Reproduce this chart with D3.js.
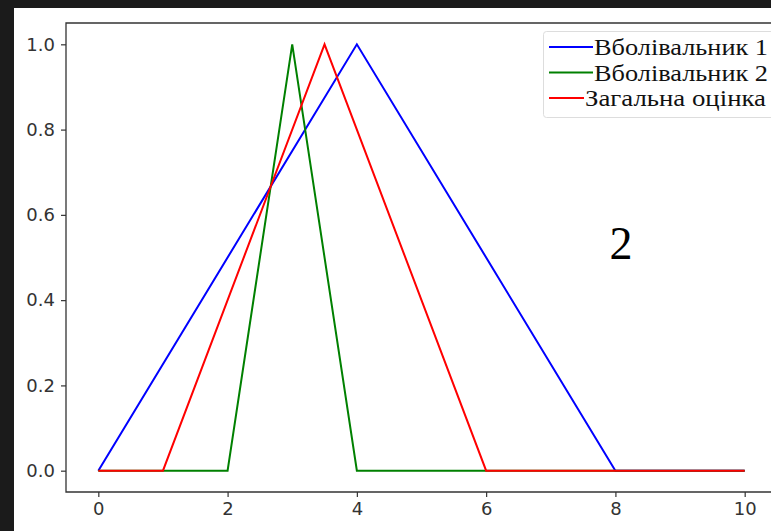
<!DOCTYPE html>
<html>
<head>
<meta charset="utf-8">
<script src="https://cdn.jsdelivr.net/npm/d3@7"></script>
<style>
  html, body { margin: 0; padding: 0; background: #1b1b1b; overflow: hidden; }
  svg { display: block; }
</style>
</head>
<body>
<svg id="chart" width="771" height="531"></svg>
<script>
// データ
var seriesNames = ["Вболівальник 1", "Вболівальник 2", "Загальна оцінка"];
var seriesColors = ["#0000ff", "#008000", "#ff0000"];
var fan1X = [0, 4, 8, 10];
var fan1Y = [0, 1, 0, 0];
var fan2X = [0, 2, 3, 4, 10];
var fan2Y = [0, 0, 1, 0, 0];
var totalX = [0, 1, 3.5, 6, 10];
var totalY = [0, 0, 1, 0, 0];
var xTicks = [0, 2, 4, 6, 8, 10];
var yTicks = [0, 0.2, 0.4, 0.6, 0.8, 1.0];
var noteText = "2";

var svg = d3.select("#chart");

// 白い背景
svg.append("rect")
  .attr("x", 14).attr("y", 8)
  .attr("width", 771 - 14).attr("height", 531 - 8)
  .attr("fill", "#fff");

var plotLeft = 66, plotTop = 23, plotRight = 777, plotBottom = 492;

var x = d3.scaleLinear().domain([-0.5, 10.5]).range([plotLeft, plotRight]);
var y = d3.scaleLinear().domain([-0.05, 1.05]).range([plotBottom, plotTop]);

function styleAxis(g){
  g.select(".domain").remove();
  g.selectAll("line").attr("stroke", "#333").attr("stroke-width", 1.2);
  g.selectAll("text")
    .attr("font-family", "DejaVu Sans, sans-serif")
    .attr("font-size", 18)
    .attr("fill", "#333");
}

// 軸
svg.append("g")
  .attr("transform", "translate(0," + plotBottom + ")")
  .call(d3.axisBottom(x).tickValues(xTicks).tickSize(5).tickPadding(5).tickFormat(d3.format("d")))
  .call(styleAxis);

svg.append("g")
  .attr("transform", "translate(" + plotLeft + ",0)")
  .call(d3.axisLeft(y).tickValues(yTicks).tickSize(5).tickPadding(6).tickFormat(d3.format(".1f")))
  .call(styleAxis);

// 線
var line = d3.line()
  .x(function(d){ return x(d[0]); })
  .y(function(d){ return y(d[1]); });

var allSeries = [
  d3.zip(fan1X, fan1Y),
  d3.zip(fan2X, fan2Y),
  d3.zip(totalX, totalY)
];

allSeries.forEach(function(s, i){
  svg.append("path")
    .attr("d", line(s))
    .attr("fill", "none")
    .attr("stroke", seriesColors[i])
    .attr("stroke-width", 2);
});

// 枠
svg.append("path")
  .attr("d", "M" + plotRight + "," + plotTop + "H" + plotLeft + "V" + plotBottom + "H" + plotRight)
  .attr("fill", "none")
  .attr("stroke", "#333")
  .attr("stroke-width", 1.3);

// 凡例
var legend = svg.append("g");
legend.append("rect")
  .attr("x", 543.5).attr("y", 31.5)
  .attr("width", 240).attr("height", 86)
  .attr("rx", 3)
  .attr("fill", "#fff")
  .attr("stroke", "#ddd");

var textEnds = [768, 768, 766];
seriesNames.forEach(function(name, i){
  var ly = 47 + i * 25.5;
  var x2 = i < 2 ? 593 : 584;
  legend.append("line")
    .attr("x1", 549).attr("x2", x2)
    .attr("y1", ly).attr("y2", ly)
    .attr("stroke", seriesColors[i])
    .attr("stroke-width", 2);
  legend.append("text")
    .attr("x", x2 + 1).attr("y", ly + 8)
    .attr("font-family", "Liberation Serif, serif")
    .attr("font-size", 23)
    .attr("fill", "#111")
    .attr("textLength", textEnds[i] - x2 - 1)
    .attr("lengthAdjust", "spacingAndGlyphs")
    .text(name);
});

// 注記
svg.append("text")
  .attr("x", 621).attr("y", 259)
  .attr("text-anchor", "middle")
  .attr("font-family", "Liberation Serif, serif")
  .attr("font-size", 46)
  .attr("fill", "#000")
  .text(noteText);
</script>
</body>
</html>
